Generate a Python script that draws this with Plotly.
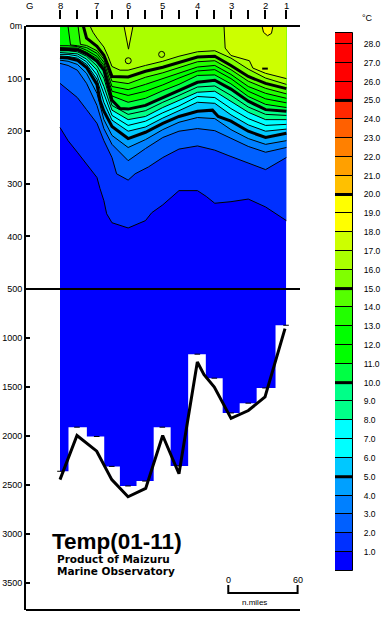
import plotly.graph_objects as go

# ---------------- data ----------------
# distances along the section (nautical miles from station 8)
tick_dist = [0, 14.7, 31.8, 44.8, 58.9, 73.6, 88.6, 103.0, 118.9, 133.6, 148.1, 163.0, 177.5, 195.7]
station_names = ["8", "7", "6", "5", "4", "3", "2", "1"]
station_dist = [0, 31.8, 58.9, 88.6, 118.9, 148.1, 177.5, 195.7]
coast_label = "G"
coast_dist = -26.8

# deepest observation depth per column (m) and sea-bottom depth (m)
step_depth = [2360, 1910, 2005, 2310, 2510, 2460, 1910, 2305, 1165, 1410, 1765, 1665, 1510, 870]
bottom_dist = [0, 14.7, 31.8, 44.8, 58.9, 74.2, 88.9, 103.0, 118.9, 124.7, 133.6, 148.1, 163.1, 177.5, 194.8]
bottom_depth = [2445, 1995, 2155, 2445, 2620, 2535, 1995, 2385, 1245, 1375, 1500, 1820, 1740, 1600, 905]

# isotherms (distance nm, depth m)
cols = [0, 7, 15, 23, 32, 38, 45, 59, 74, 89, 103, 119, 134, 148, 163, 178, 196]
iso01_x = [0, 7, 15, 23, 32, 34.6, 38, 40.4, 45, 59, 63.5, 74, 79.4, 89, 103, 119, 126.6, 134, 148, 163, 178, 196]
iso01_d = [193, 218, 240, 263, 288, 309, 332, 357, 374, 384, 380, 370, 355, 340, 313, 313, 324, 337, 334, 329, 344, 370]
iso02_x = [0, 7, 15, 23, 32, 38, 45, 49, 59, 65, 76.5, 89, 97, 103, 119, 134, 145.5, 157.3, 178, 196]
iso02_d = [109, 122, 136, 159, 185, 218, 250, 281, 293, 281, 268, 250, 240, 234, 228, 236, 246, 256, 273, 250]
iso03_d = [71, 75, 84, 109, 151, 195, 225, 256, 233, 212, 200, 195, 199, 214, 229, 240, 231]
iso04_d = [65, 67, 73, 90, 128, 178, 208, 231, 216, 197, 183, 174, 176, 197, 214, 225, 218]
iso05_x = [0, 7, 15, 23, 32, 34.6, 38, 45, 59, 74, 89, 103, 119, 132, 137, 148, 163, 178, 196]
iso05_d = [60, 61, 65, 79, 111, 141, 162, 191, 214, 202, 185, 172, 162, 160, 172, 181, 200, 212, 204]
iso06_d = [57, 58, 61, 73, 101, 145, 179, 200, 192, 175, 161, 145, 147, 169, 188, 200, 196]
iso07_d = [54, 54, 57, 68, 93, 130, 170, 189, 181, 165, 152, 134, 136, 157, 176, 189, 187]
iso08_d = [50.5, 51, 53, 63, 84, 115, 160, 178, 172, 155, 141, 126, 124, 143, 164, 178, 178]
iso09_d = [47, 47, 49, 57.5, 76, 99, 151, 168, 161, 145, 132, 116, 114, 132, 154, 168, 170]
iso10_x = [0, 7, 15, 23, 32, 38, 41.6, 45, 52, 59, 74, 89, 103, 119, 134, 148, 163, 178, 196]
iso10_d = [44, 44, 45, 53, 67, 84, 113, 141, 157, 158, 151, 136, 122, 107, 103, 120, 143, 159, 162]
iso11_d = [41, 41, 42, 50, 62, 79, 133, 145, 137.5, 123, 111, 94, 93, 110, 134, 149, 155]
iso12_d = [37.5, 37.5, 39, 46, 57.5, 75, 124, 132, 124, 112, 99, 85.5, 83, 100, 124, 138.5, 146]
iso13_x = [6.9, 7.8, 9.1, 15, 23, 32, 38, 45, 59, 74, 89, 103, 119, 134, 148, 163, 178, 196]
iso13_d = [0, 19, 36, 37.5, 41, 52, 69, 115, 121, 111, 100, 89, 78, 75, 92, 115, 128, 137.5]
iso14_x = [15.6, 16.5, 17.7, 23, 32, 38, 45, 59, 74, 89, 103, 119, 134, 148, 163, 178, 196]
iso14_d = [0, 19, 35, 37, 47, 63, 105, 109.5, 97.5, 89, 78.5, 68, 66, 83, 105, 118.5, 129]
iso15_x = [20.2, 23, 32, 38, 41.6, 45, 59, 74, 89, 103, 119, 134, 148, 163, 178, 196]
iso15_d = [0, 23, 38.5, 55.6, 75, 96, 97, 86, 78.5, 69, 59, 57.5, 75, 96, 109, 119]
iso16_x = [26, 28.6, 32, 38, 41.6, 45, 52, 59, 74, 89, 103, 119, 134, 148, 163, 178, 196]
iso16_d = [0, 12, 23, 40, 57.5, 77, 84, 84, 75, 67, 57.5, 49, 47, 61, 82, 99, 111]
iso17a_x = [55.4, 59.3, 63.2]
iso17a_d = [0, 44, 0]
iso17b_x = [142, 143, 148, 164, 167, 178, 196]
iso17b_d = [0, 42, 56, 66, 80, 90, 100]
iso18_x = [174.9, 176.2, 179.7, 183.1, 184.4]
iso18_d = [0, 12, 18.5, 14, 0]

# tiny closed isotherms
loop_x = [59.1, 88.0]
loop_d = [66, 54]
dash_x = [177.5]
dash_d = [81]

isotherms = [
    (1, iso01_x, iso01_d), (2, iso02_x, iso02_d), (3, cols, iso03_d), (4, cols, iso04_d),
    (5, iso05_x, iso05_d), (6, cols, iso06_d), (7, cols, iso07_d), (8, cols, iso08_d),
    (9, cols, iso09_d), (10, iso10_x, iso10_d), (11, cols, iso11_d), (12, cols, iso12_d),
    (13, iso13_x, iso13_d), (14, iso14_x, iso14_d), (15, iso15_x, iso15_d), (16, iso16_x, iso16_d),
    (17, iso17a_x, iso17a_d), (17, iso17b_x, iso17b_d), (18, iso18_x, iso18_d),
]

# colour of the band from level k to k+1 (k = 0 means below 1 degC)
band_colors = ["#0000FF", "#0030FF", "#0060FF", "#0080FF", "#00A0FF", "#00C8FF",
               "#00FFFF", "#00FFFF", "#00FF88", "#00FF88", "#00FF44", "#00FF00",
               "#00FF00", "#22FF00", "#55FF00", "#80FF00", "#AAFF00", "#CCFF00",
               "#FFFF00", "#FFFF00", "#FFC000", "#FFA000", "#FF8000", "#FF6000",
               "#FF2800", "#FF0000", "#FF0000", "#FF0000", "#FF0000"]
cb_base = list(range(0, 29))
cb_height = [1] * 28 + [0.6]
cb_ticks = list(range(1, 29))
thick_levels = [5, 10, 15, 20, 25]

scale_nm = 60

# ---------------- figure ----------------
W, H = 385, 617
FONT = "Liberation Sans, Arial, sans-serif"
WIDE = "DejaVu Sans, Liberation Sans, sans-serif"
section_end = tick_dist[-1]

fig = go.Figure()

# coldest water as background of upper panel
fig.add_trace(go.Scatter(x=[0, section_end], y=[500, 500], mode="lines", fill="tozeroy",
                         fillcolor=band_colors[0], line=dict(width=0), hoverinfo="skip"))
for lev, xs, ds in isotherms:
    fig.add_trace(go.Scatter(x=xs, y=ds, mode="lines", fill="tozeroy",
                             fillcolor=band_colors[lev], line=dict(width=0), hoverinfo="skip"))
for lev, xs, ds in isotherms:
    fig.add_trace(go.Scatter(x=xs, y=ds, mode="lines",
                             line=dict(color="black", width=3 if lev % 5 == 0 else 1),
                             hoverinfo="skip"))
fig.add_trace(go.Scatter(x=loop_x, y=loop_d, mode="markers",
                         marker=dict(symbol="circle-open", size=6, color="black", line=dict(width=1))))
fig.add_trace(go.Scatter(x=dash_x, y=dash_d, mode="markers",
                         marker=dict(symbol="line-ew-open", size=4, color="black", line=dict(width=2))))

# lower panel: cold water down to the deepest observation
fig.add_trace(go.Scatter(x=[0, section_end], y=[500, 500], mode="lines", line=dict(width=0),
                         yaxis="y2", hoverinfo="skip"))
fig.add_trace(go.Scatter(x=tick_dist, y=step_depth, mode="lines", line_shape="hvh",
                         fill="tonexty", fillcolor=band_colors[0], line=dict(width=0),
                         yaxis="y2", hoverinfo="skip"))
fig.add_trace(go.Scatter(x=tick_dist, y=step_depth, mode="markers", yaxis="y2",
                         marker=dict(symbol="line-ew-open", size=4, color="black", line=dict(width=1))))
fig.add_trace(go.Scatter(x=bottom_dist, y=bottom_depth, mode="lines", yaxis="y2",
                         line=dict(color="black", width=3)))

# scale bar
sx0 = 145.7
fig.add_trace(go.Scatter(x=[sx0, sx0, sx0 + scale_nm, sx0 + scale_nm], y=[3520, 3602, 3602, 3520],
                         mode="lines", yaxis="y2", line=dict(color="black", width=2)))

# colour bar as stacked boxes
fig.add_trace(go.Bar(x=[0.5] * len(cb_base), y=cb_height, base=cb_base, width=1,
                     marker=dict(color=band_colors, line=dict(color="black", width=1)),
                     xaxis="x3", yaxis="y3", hoverinfo="skip"))
tx, ty = [], []
for t in thick_levels:
    tx += [0, 1, None]
    ty += [t, t, None]
fig.add_trace(go.Scatter(x=tx, y=ty, mode="lines", line=dict(color="black", width=3),
                         xaxis="x3", yaxis="y3", hoverinfo="skip"))

def py(p):  # pixel row -> paper fraction
    return (H - p) / H

def px(p):
    return p / W

axis_font = dict(family=FONT, size=9, color="black")
fig.update_layout(
    width=W, height=H, margin=dict(l=0, r=0, t=0, b=0, autoexpand=False),
    paper_bgcolor="white", plot_bgcolor="rgba(0,0,0,0)", showlegend=False, hovermode=False,
    bargap=0,
    xaxis=dict(domain=[px(26), px(300)], range=[-29.44, 207.79], anchor="free", position=py(19.3),
               side="top", tickmode="array", tickvals=tick_dist, showticklabels=False,
               ticks="outside", ticklen=9, tickwidth=2, tickcolor="black",
               showline=False, showgrid=False, zeroline=False, automargin=False),
    yaxis=dict(domain=[py(289), py(26)], range=[500, 0], anchor="x",
               tickmode="array", tickvals=[0, 100, 200, 300, 400, 500],
               ticktext=["0m", "100", "200", "300", "400", "500"],
               ticks="inside", ticklen=4, tickwidth=2, tickcolor="black",
               showline=True, linewidth=2, linecolor="black", automargin=False,
               showgrid=False, zeroline=False, tickfont=axis_font),
    yaxis2=dict(domain=[py(610), py(289)], range=[3775.5, 500], anchor="x",
                tickmode="array", tickvals=[1000, 1500, 2000, 2500, 3000, 3500],
                ticks="inside", ticklen=4, tickwidth=2, tickcolor="black",
                showline=True, linewidth=2, linecolor="black", automargin=False,
                showgrid=False, zeroline=False, tickfont=axis_font),
    xaxis3=dict(domain=[px(335), px(353)], range=[0, 1], anchor="y3", visible=False,
                automargin=False),
    yaxis3=dict(domain=[0, 1], range=[-2.4547, 30.338], anchor="x3", side="right",
                tickmode="array", tickvals=cb_ticks, ticktext=[f"{t}.0" for t in cb_ticks],
                ticks="outside", ticklen=8, tickcolor="rgba(0,0,0,0)", automargin=False,
                showline=False, showgrid=False, zeroline=False,
                tickfont=dict(family=FONT, size=8.5, color="black")),
    shapes=[
        dict(type="line", xref="x domain", yref="y domain", x0=0, x1=1, y0=1, y1=1,
             line=dict(color="black", width=2)),
        dict(type="line", xref="x domain", yref="y domain", x0=0, x1=1, y0=0, y1=0,
             line=dict(color="black", width=2)),
        dict(type="line", xref="x domain", yref="y2 domain", x0=0, x1=1, y0=0, y1=0,
             line=dict(color="black", width=2)),
    ],
)

ann = []
for name, d in zip([coast_label] + station_names, [coast_dist] + station_dist):
    ann.append(dict(text=name, x=d, y=py(5.5), xref="x", yref="paper", showarrow=False,
                    xanchor="center", yanchor="middle", borderpad=0,
                    font=dict(family=FONT, size=9.5, color="black")))
ann.append(dict(text="°C", x=px(367), y=py(18), xref="paper", yref="paper", showarrow=False,
                xanchor="center", yanchor="middle", font=dict(family=FONT, size=9, color="black")))
ann.append(dict(text="<b>Temp(01-11)</b>", x=px(51), y=py(541), xref="paper", yref="paper",
                showarrow=False, xanchor="left", yanchor="middle", borderpad=0,
                font=dict(family=FONT, size=22.5, color="black")))
ann.append(dict(text="<b>Product of Maizuru</b>", x=px(56), y=py(559), xref="paper", yref="paper",
                showarrow=False, xanchor="left", yanchor="middle", borderpad=0,
                font=dict(family=WIDE, size=10.5, color="black")))
ann.append(dict(text="<b>Marine Observatory</b>", x=px(56), y=py(571), xref="paper", yref="paper",
                showarrow=False, xanchor="left", yanchor="middle", borderpad=0,
                font=dict(family=WIDE, size=10.5, color="black")))
ann.append(dict(text="0", x=sx0, y=3474, xref="x", yref="y2", showarrow=False,
                xanchor="center", yanchor="middle", font=dict(family=FONT, size=9, color="black")))
ann.append(dict(text=str(scale_nm), x=sx0 + scale_nm, y=3474, xref="x", yref="y2", showarrow=False,
                xanchor="center", yanchor="middle", font=dict(family=FONT, size=9, color="black")))
ann.append(dict(text="n.miles", x=sx0 + scale_nm * 0.38, y=3694, xref="x", yref="y2", showarrow=False,
                xanchor="center", yanchor="middle", font=dict(family=FONT, size=8, color="black")))
fig.update_layout(annotations=ann)

fig.write_html("out.html", config={"displayModeBar": False},
               post_script="document.body.style.margin='0';")
